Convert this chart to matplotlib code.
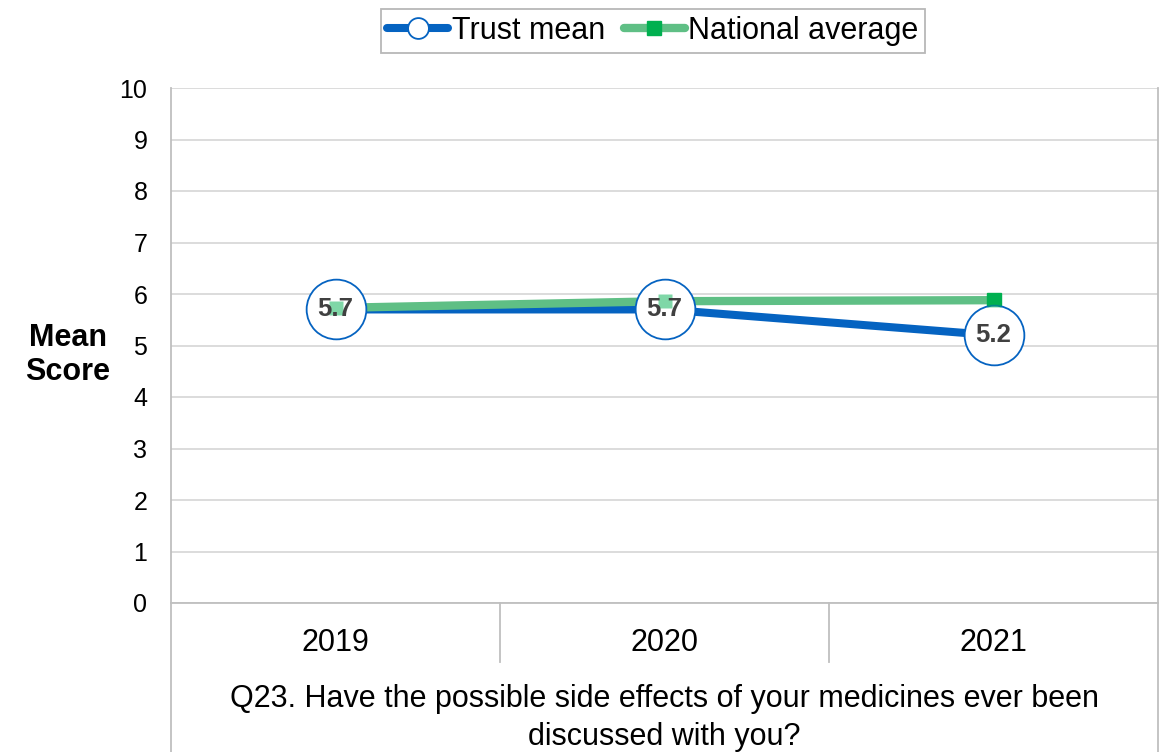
import matplotlib.pyplot as plt
from matplotlib.lines import Line2D

plt.rcParams['font.family'] = ['Liberation Sans', 'DejaVu Sans']

# data
years = ['2019', '2020', '2021']
trust_mean = [5.7, 5.7, 5.2]
national_avg = [5.73, 5.86, 5.88]
question = 'Q23. Have the possible side effects of your medicines ever been\ndiscussed with you?'

blue = '#0563c1'
green_line = '#5fbf85'
green_mark = '#00b050'
grid_col = '#d9d9d9'
border_col = '#bfbfbf'

fig = plt.figure(figsize=(11.65, 7.52), dpi=100)
ax = fig.add_axes([171 / 1165, 149 / 752, 987 / 1165, 515 / 752])

x = list(range(len(years)))

# lines first, national on top of trust
ax.plot(x, trust_mean, color=blue, lw=5.8, zorder=2, solid_capstyle='butt')
ax.plot(x, national_avg, color=green_line, lw=6, marker='s', ms=10,
        mfc=green_mark, mec=green_mark, zorder=3, solid_capstyle='butt')
# big white circles for trust mean
ax.plot(x, trust_mean, ls='none', marker='o', ms=43, mfc='white', mec=blue,
        mew=1.3, zorder=4)
# national markers shown faded through the circles
ax.plot(x, national_avg, ls='none', marker='s', ms=10, mfc=green_mark,
        mec='none', alpha=0.5, zorder=5)

for xi, v in zip(x, trust_mean):
    ax.text(xi, v, f'{v:.1f}', ha='center', va='center', fontsize=18.5,
            fontweight='bold', color='#404040', zorder=6)

ax.set_xlim(-0.5, len(years) - 0.5)
ax.set_ylim(0, 10)
ax.set_yticks(range(0, 11))
ax.tick_params(axis='y', length=0, pad=17, labelsize=18)
ax.set_xticks([])
ax.yaxis.grid(True, color=grid_col, lw=1.3)
ax.set_axisbelow(True)

ax.spines['top'].set_visible(False)
for side in ['left', 'right', 'bottom']:
    ax.spines[side].set_color(border_col)
    ax.spines[side].set_linewidth(1.3)

# category axis area below the plot
trans = ax.get_xaxis_transform()
bottom_y = -149 / 515
ax.plot([-0.5, -0.5], [0, bottom_y], transform=trans, color=border_col,
        lw=1.3, clip_on=False)
ax.plot([len(years) - 0.5] * 2, [0, bottom_y], transform=trans,
        color=border_col, lw=1.3, clip_on=False)
for i in range(1, len(years)):
    ax.plot([i - 0.5, i - 0.5], [0, -59 / 515], transform=trans,
            color=border_col, lw=1.3, clip_on=False)
for xi, yr in zip(x, years):
    ax.text(xi, -40 / 515, yr, transform=trans, ha='center', va='center',
            fontsize=22)
ax.text(1, -115 / 515, question, transform=trans, ha='center', va='center',
        fontsize=22, linespacing=1.32)

fig.text(68 / 1165, 1 - 355 / 752, 'Mean\nScore', ha='center', va='center',
         fontsize=22, fontweight='bold', linespacing=1.15)

handles = [
    Line2D([], [], color=blue, lw=5.8, marker='o', ms=15, mfc='white',
           mec=blue, mew=1.3, solid_capstyle='round'),
    Line2D([], [], color=green_line, lw=6, marker='s', ms=10, mfc=green_mark,
           mec=green_mark, solid_capstyle='round'),
]
leg = fig.legend(handles, ['Trust mean', 'National average'], loc='center',
                 bbox_to_anchor=(653 / 1165, 1 - 31 / 752), ncol=2,
                 fontsize=22, frameon=True, fancybox=False, handlelength=2,
                 handletextpad=0.12, columnspacing=0.6, borderpad=0.22,
                 borderaxespad=0)
leg.get_frame().set_edgecolor('#a6a6a6')
leg.get_frame().set_linewidth(1.3)

fig.savefig('out.png', dpi=100)
